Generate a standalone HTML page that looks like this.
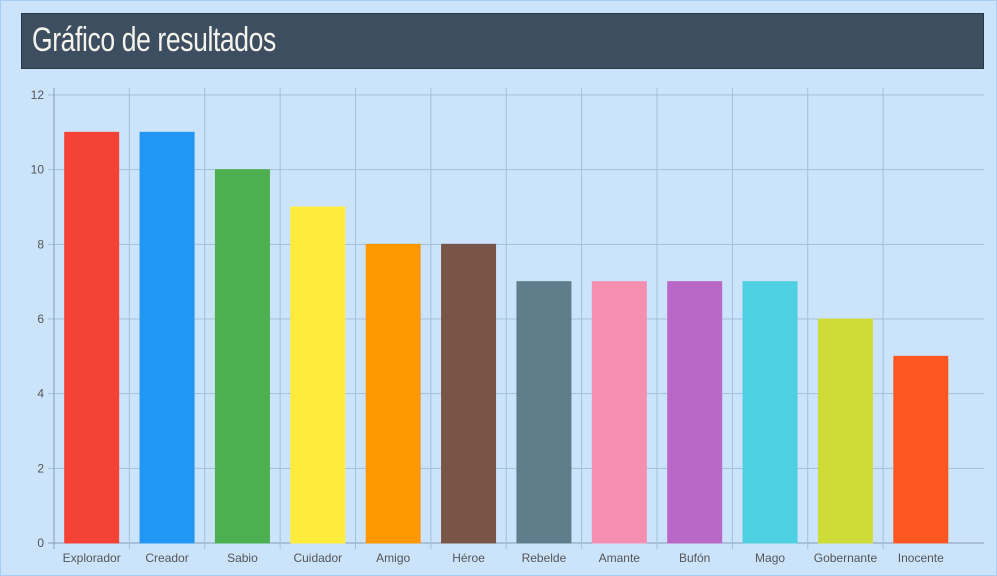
<!DOCTYPE html>
<html><head><meta charset="utf-8"><style>
html,body{margin:0;padding:0}
body{width:997px;height:576px;background:#cbe4fc;position:relative;overflow:hidden;font-family:"Liberation Sans",sans-serif}
#frame{position:absolute;left:0;top:0;width:995px;height:574px;border:1px solid #a9cdf0}
#hdr{position:absolute;left:21px;top:13px;width:961px;height:54px;background:#3c4e5f;border:1px solid #2a3846}
#hdr span{position:absolute;left:10px;top:7px;color:#f4f4ec;font-family:"Liberation Sans Narrow","Liberation Sans",sans-serif;font-size:34px;font-weight:500;letter-spacing:-0.5px;transform:scaleX(0.78);transform-origin:left;white-space:nowrap}
svg{position:absolute;left:0;top:0}
</style></head><body>
<div id="frame"></div>
<div id="hdr"><span>Gráfico de resultados</span></div>
<svg id="c" width="997" height="576"></svg>
<script>
const categories=["Explorador","Creador","Sabio","Cuidador","Amigo","Héroe","Rebelde","Amante","Bufón","Mago","Gobernante","Inocente"];
const values=[11,11,10,9,8,8,7,7,7,7,6,5];
const colors=["#f44336","#2196f3","#4caf50","#ffeb3b","#ff9800","#795548","#607d8b","#f48fb1","#ba68c8","#4dd0e1","#cddc39","#ff5722"];
const yTicks=[0,2,4,6,8,10,12];
const NS="http://www.w3.org/2000/svg";
const svg=document.getElementById('c');
const x0=54,xEnd=958.5,gridEnd=984,y0=543,yTop=95,yMax=12;
const bw=(xEnd-x0)/categories.length;
const y=v=>y0-(y0-yTop)*v/yMax;
const xc=i=>x0+bw*(i+0.5);
function el(t,a){const e=document.createElementNS(NS,t);for(const k in a)e.setAttribute(k,a[k]);svg.appendChild(e);return e;}
yTicks.forEach(t=>{
  const l=el('line',{x1:x0-6,x2:gridEnd,y1:y(t),y2:y(t),stroke:t===0?'#8a9bb0':'#a3bfd9','stroke-width':1});
  
  
  const tx=el('text',{x:x0-10,y:y(t)+4,'text-anchor':'end','font-size':12,fill:'#555','font-family':'Liberation Sans, sans-serif'});
  tx.textContent=t;
  
  
});
for(let i=0;i<categories.length;i++){
  const gx=x0+bw*i;
  const l=el('line',{x1:gx,x2:gx,y1:88,y2:y0+6,stroke:i===0?'#8a9bb0':'#a3bfd9','stroke-width':1});
  
  
}
categories.forEach((c,i)=>{
  const w=54;
  const r=el('rect',{x:xc(i)-w/2,y:y(values[i]),width:w,height:y0-y(values[i]),fill:colors[i],stroke:colors[i],'stroke-width':1});
  
  
  const t=el('text',{x:xc(i),y:y0+19,'text-anchor':'middle','font-size':12,fill:'#555','font-family':'Liberation Sans, sans-serif'});
  t.textContent=c;
  
  
});
</script>
</body></html>
